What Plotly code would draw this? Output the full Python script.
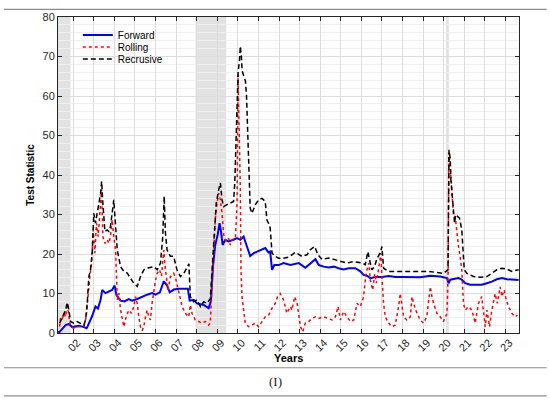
import plotly.graph_objects as go

# ---- data (decimal years) ----
fwd_x = [2001.26, 2001.34, 2001.63, 2001.79, 2001.95, 2002.28, 2002.52, 2002.65, 2002.71, 2002.92,
         2003.08, 2003.20, 2003.33, 2003.41, 2003.57, 2003.73, 2003.89, 2004.01, 2004.10, 2004.30,
         2004.49, 2004.70, 2004.86, 2005.11, 2005.35, 2005.59, 2005.83, 2006.00, 2006.21, 2006.40,
         2006.56, 2006.69, 2006.89, 2007.13, 2007.37, 2007.57, 2007.66, 2007.85, 2008.01, 2008.34,
         2008.58, 2008.69, 2008.79, 2008.90, 2009.02, 2009.11, 2009.18, 2009.26, 2009.39, 2009.55,
         2009.79, 2009.96, 2010.12, 2010.28, 2010.44, 2010.60, 2010.77, 2010.93, 2011.17, 2011.33,
         2011.49, 2011.57, 2011.66, 2011.77, 2011.98, 2012.22, 2012.55, 2012.96, 2013.28, 2013.52,
         2013.77, 2013.93, 2014.17, 2014.41, 2014.66, 2014.90, 2015.14, 2015.38, 2015.71, 2015.95,
         2016.11, 2016.27, 2016.44, 2016.68, 2017.00, 2017.33, 2017.65, 2017.97, 2018.38, 2018.86,
         2019.35, 2019.83, 2020.16, 2020.24, 2020.32, 2020.48, 2020.72, 2020.88, 2021.05, 2021.29,
         2021.61, 2021.85, 2022.10, 2022.34, 2022.58, 2022.83, 2023.07, 2023.55, 2023.64]
fwd_y = [0.2, 0.3, 2.0, 2.3, 1.5, 1.8, 1.5, 1.2, 1.8, 4.3,
         6.7, 6.2, 8.4, 10.9, 10.1, 10.5, 10.9, 12.0, 9.6, 8.2,
         8.0, 8.6, 8.2, 8.6, 9.2, 9.7, 10.1, 9.7, 10.3, 13.1,
         12.0, 10.3, 11.0, 11.2, 11.2, 11.2, 8.2, 8.4, 7.5, 7.1,
         6.3, 8.0, 16.8, 22.3, 24.9, 27.8, 25.7, 22.3, 23.6, 23.2,
         23.6, 24.0, 23.6, 24.4, 21.9, 19.5, 20.2, 20.6, 21.0, 21.5,
         20.4, 20.6, 16.0, 17.2, 17.2, 17.7, 17.2, 17.7, 16.5, 17.7,
         18.7, 17.2, 16.8, 16.6, 16.8, 16.4, 16.1, 16.4, 16.4, 15.6,
         14.7, 14.5, 13.9, 14.2, 14.2, 14.4, 14.2, 14.2, 14.1, 14.1,
         14.5, 14.3, 13.9, 12.6, 13.5, 13.6, 13.9, 13.5, 12.6, 12.2,
         12.2, 12.2, 12.6, 13.0, 13.6, 13.9, 13.6, 13.4, 13.4]

roll_x = [2001.34, 2001.39, 2001.47, 2001.55, 2001.63, 2001.71, 2001.79, 2001.87, 2002.03, 2002.19,
          2002.36, 2002.52, 2002.63, 2002.71, 2002.79, 2002.89, 2002.97, 2003.05, 2003.13, 2003.21,
          2003.29, 2003.38, 2003.44, 2003.54, 2003.65, 2003.73, 2003.81, 2003.89, 2003.97, 2004.06,
          2004.14, 2004.22, 2004.30, 2004.38, 2004.46, 2004.57, 2004.70, 2004.83, 2004.94, 2005.03,
          2005.11, 2005.19, 2005.27, 2005.35, 2005.43, 2005.51, 2005.59, 2005.67, 2005.75, 2005.83,
          2005.92, 2006.00, 2006.08, 2006.19, 2006.29, 2006.40, 2006.48, 2006.61, 2006.72, 2006.88,
          2006.96, 2007.12, 2007.29, 2007.45, 2007.61, 2007.69, 2007.77, 2007.93, 2008.10, 2008.26,
          2008.42, 2008.58, 2008.66, 2008.74, 2008.82, 2008.90, 2008.99, 2009.07, 2009.15, 2009.23,
          2009.31, 2009.39, 2009.47, 2009.55, 2009.63, 2009.71, 2009.88, 2009.96, 2010.01, 2010.04,
          2010.09, 2010.12, 2010.15, 2010.20, 2010.28, 2010.36, 2010.52, 2010.68, 2010.85, 2011.01,
          2011.17, 2011.33, 2011.49, 2011.66, 2011.82, 2011.93, 2012.06, 2012.22, 2012.38, 2012.55,
          2012.63, 2012.76, 2012.88, 2012.96, 2013.04, 2013.15, 2013.28, 2013.44, 2013.60, 2013.77,
          2013.93, 2014.17, 2014.41, 2014.58, 2014.74, 2014.87, 2014.98, 2015.14, 2015.30, 2015.47,
          2015.63, 2015.79, 2015.95, 2016.11, 2016.19, 2016.27, 2016.36, 2016.44, 2016.55, 2016.65,
          2016.73, 2016.84, 2016.95, 2017.00, 2017.08, 2017.16, 2017.33, 2017.49, 2017.65, 2017.81,
          2017.89, 2018.05, 2018.21, 2018.38, 2018.46, 2018.54, 2018.70, 2018.86, 2019.02, 2019.18,
          2019.35, 2019.43, 2019.51, 2019.67, 2019.83, 2019.99, 2020.16, 2020.22, 2020.25, 2020.32,
          2020.40, 2020.48, 2020.56, 2020.64, 2020.72, 2020.80, 2020.88, 2020.96, 2021.05, 2021.21,
          2021.37, 2021.53, 2021.69, 2021.85, 2021.94, 2022.02, 2022.10, 2022.23, 2022.34, 2022.50,
          2022.61, 2022.74, 2022.83, 2022.94, 2023.04, 2023.15, 2023.31, 2023.47, 2023.59]
roll_y = [1.6, 4.1, 3.7, 5.0, 4.1, 7.5, 4.1, 1.6, 1.2, 1.6,
          1.6, 1.8, 4.1, 9.2, 13.5, 17.7, 26.1, 20.2, 27.8, 24.4,
          29.5, 36.3, 24.4, 22.7, 23.6, 22.7, 24.4, 28.7, 24.4, 21.0,
          8.4, 10.1, 5.8, 3.3, 1.6, 4.1, 5.8, 5.0, 6.7, 9.2,
          7.5, 4.1, 1.6, 0.6, 1.6, 4.1, 5.8, 4.1, 3.3, 7.5,
          10.9, 13.4, 15.1, 16.0, 14.4, 21.0, 16.0, 10.9, 14.2, 15.1,
          14.2, 10.9, 6.7, 5.0, 4.1, 7.1, 5.0, 3.3, 2.9, 2.5,
          2.9, 2.0, 2.5, 10.1, 20.2, 28.7, 32.9, 35.4, 33.7, 30.3,
          24.9, 23.6, 23.2, 24.0, 22.3, 23.6, 24.0, 32.9, 65.4, 56.5,
          51.5, 36.3, 16.0, 9.2, 5.8, 2.5, 1.6, 2.0, 2.5, 1.6,
          2.9, 4.1, 4.5, 6.3, 7.5, 9.2, 10.0, 8.4, 5.0, 6.7,
          5.8, 9.2, 7.5, 4.1, 1.6, 0.3, 2.5, 2.9, 3.7, 4.1,
          3.7, 4.1, 3.7, 3.3, 4.1, 6.7, 3.3, 5.4, 4.1, 2.9,
          3.3, 7.5, 6.7, 9.2, 13.4, 16.0, 17.7, 13.4, 10.9, 15.0,
          12.6, 16.8, 20.2, 14.2, 7.5, 4.1, 2.5, 1.6, 2.0, 6.7,
          10.0, 4.1, 3.3, 4.1, 9.2, 7.5, 5.0, 3.3, 2.5, 4.1,
          11.7, 9.2, 7.5, 5.0, 4.1, 2.9, 5.0, 16.0, 45.6, 42.2,
          34.6, 29.5, 29.5, 25.3, 21.9, 19.4, 16.0, 7.5, 5.8, 6.7,
          5.8, 2.5, 7.5, 9.2, 5.8, 1.6, 5.8, 1.6, 5.8, 10.0,
          7.5, 11.7, 9.2, 10.9, 8.4, 6.7, 5.0, 4.1, 4.5]

rec_x = [2001.34, 2001.47, 2001.63, 2001.71, 2001.79, 2001.87, 2002.03, 2002.19, 2002.36, 2002.52,
         2002.60, 2002.68, 2002.76, 2002.84, 2002.92, 2003.00, 2003.08, 2003.17, 2003.25, 2003.33,
         2003.38, 2003.44, 2003.54, 2003.65, 2003.73, 2003.81, 2003.89, 2003.97, 2004.06, 2004.14,
         2004.30, 2004.46, 2004.62, 2004.78, 2004.94, 2005.11, 2005.27, 2005.43, 2005.67, 2005.92,
         2006.08, 2006.24, 2006.35, 2006.42, 2006.48, 2006.56, 2006.72, 2006.88, 2007.04, 2007.21,
         2007.37, 2007.56, 2007.62, 2007.69, 2007.85, 2008.01, 2008.18, 2008.34, 2008.50, 2008.66,
         2008.74, 2008.82, 2008.95, 2009.07, 2009.15, 2009.23, 2009.31, 2009.47, 2009.63, 2009.79,
         2009.85, 2009.91, 2009.96, 2010.01, 2010.08, 2010.12, 2010.17, 2010.21, 2010.29, 2010.37,
         2010.42, 2010.45, 2010.50, 2010.53, 2010.56, 2010.60, 2010.68, 2010.85, 2011.01, 2011.17,
         2011.33, 2011.41, 2011.49, 2011.57, 2011.66, 2011.82, 2011.98, 2012.22, 2012.46, 2012.79,
         2013.11, 2013.36, 2013.52, 2013.73, 2013.89, 2014.09, 2014.41, 2014.73, 2014.98, 2015.30,
         2015.62, 2016.03, 2016.19, 2016.32, 2016.38, 2016.51, 2016.64, 2016.76, 2016.92, 2017.00,
         2017.08, 2017.32, 2018.29, 2019.26, 2019.99, 2020.15, 2020.21, 2020.26, 2020.32, 2020.35,
         2020.43, 2020.48, 2020.53, 2020.58, 2020.77, 2020.88, 2020.93, 2021.00, 2021.13, 2021.45,
         2021.77, 2022.10, 2022.34, 2022.58, 2022.83, 2023.07, 2023.31, 2023.55, 2023.64]
rec_y = [2.5, 4.1, 5.8, 7.7, 5.8, 2.9, 2.5, 2.9, 2.5, 2.0,
         3.3, 7.5, 14.3, 16.0, 20.2, 30.3, 27.8, 31.2, 32.9, 35.4,
         38.4, 32.9, 25.7, 26.1, 25.7, 27.0, 31.2, 33.7, 27.0, 21.0,
         16.8, 15.6, 15.2, 13.9, 12.6, 11.8, 14.3, 16.0, 16.5, 16.8,
         16.0, 17.7, 24.4, 34.6, 25.3, 21.0, 19.4, 19.4, 16.0, 14.3,
         15.1, 16.8, 17.5, 9.2, 7.9, 8.4, 6.7, 7.9, 7.5, 8.7,
         16.0, 22.7, 32.9, 36.3, 38.0, 33.7, 32.0, 32.5, 32.9, 33.3,
         38.0, 47.3, 55.7, 65.9, 69.2, 72.6, 70.0, 66.3, 65.0, 63.7,
         60.0, 54.4, 49.0, 43.0, 36.3, 31.6, 30.3, 32.5, 33.7, 34.1,
         33.3, 28.6, 27.8, 26.6, 20.2, 19.4, 18.9, 18.9, 19.2, 20.4,
         19.4, 19.8, 21.1, 21.9, 19.8, 18.6, 19.0, 18.5, 18.1, 17.7,
         18.1, 17.7, 17.3, 20.6, 18.9, 16.0, 16.8, 18.9, 20.3, 21.9,
         16.4, 15.6, 15.6, 15.6, 15.1, 15.6, 16.0, 46.4, 43.9, 38.8,
         33.7, 31.2, 27.8, 29.9, 29.1, 26.1, 22.7, 16.0, 15.1, 14.3,
         14.1, 14.3, 15.1, 16.0, 16.4, 16.2, 15.6, 16.0, 16.0]

recessions = [(2001.26, 2001.87), (2007.94, 2009.43), (2020.11, 2020.25)]
years = list(range(2002, 2024))
year_labels = [f"{y % 100:02d}" for y in years]

FONT = "Liberation Sans, Arial, sans-serif"
AX = "#262626"

fig = go.Figure()
fig.add_trace(go.Scatter(x=fwd_x, y=fwd_y, name="Forward", mode="lines", legend="legend",
                         line=dict(color="#0000ff", width=2)))
fig.add_trace(go.Scatter(x=roll_x, y=roll_y, name="Rolling", mode="lines", legend="legend2",
                         line=dict(color="#ff0000", width=1.5, dash="dot")))
fig.add_trace(go.Scatter(x=rec_x, y=rec_y, name="Recrusive", mode="lines", legend="legend3",
                         line=dict(color="#000000", width=1.5, dash="5px,3px")))

for a, b in recessions:
    fig.add_shape(type="rect", xref="x", yref="y", x0=a, x1=b, y0=0, y1=80,
                  fillcolor="#e2e2e2", line_width=0, layer="below")

# rules of the surrounding table
for yy in [1.024, -0.110, -0.199]:
    fig.add_shape(type="line", xref="paper", yref="paper", x0=-0.117, x1=1.06,
                  y0=yy, y1=yy, line=dict(color="#8c8c8c", width=1.2))

fig.add_annotation(text="(I)", xref="paper", yref="paper", x=0.471, y=-0.155,
                   yanchor="middle", xanchor="center", showarrow=False,
                   font=dict(family="Liberation Serif, Times New Roman, serif", size=13, color="#222"))
fig.add_annotation(text="<b>Years</b>", xref="paper", yref="paper", x=0.5, y=-0.079,
                   yanchor="middle", xanchor="center", showarrow=False,
                   font=dict(size=11, color="#000"))

leg = dict(x=0.043, xanchor="left", yanchor="middle", bgcolor="rgba(255,255,255,0)",
           font=dict(size=10, color="#000"))
fig.update_layout(
    width=550, height=403,
    margin=dict(l=58, r=31, t=17, b=70),
    paper_bgcolor="white", plot_bgcolor="white",
    font=dict(family=FONT, size=11, color=AX),
    showlegend=True,
    legend=dict(leg, y=0.943),
    legend2=dict(leg, y=0.905),
    legend3=dict(leg, y=0.867),
)
fig.update_xaxes(range=[2001.26, 2023.66], tickvals=years, ticktext=year_labels,
                 tickangle=-45, ticklabelshift=4, ticklabelstandoff=-2,
                 showgrid=True, gridcolor="#dddddd", gridwidth=1,
                 showline=True, linecolor=AX, linewidth=1, mirror="ticks",
                 ticks="inside", ticklen=4, tickcolor=AX, zeroline=False,
                 tickfont=dict(size=11, color=AX))
fig.update_yaxes(range=[0, 80], dtick=10, showgrid=True, gridcolor="#dddddd", gridwidth=1,
                 minor=dict(dtick=2, showgrid=True, gridcolor="#f0f0f0"),
                 showline=True, linecolor=AX, linewidth=1, mirror="ticks",
                 ticks="inside", ticklen=4, tickcolor=AX, zeroline=False,
                 tickfont=dict(size=11, color=AX),
                 title=dict(text="<b>Test Statistic</b>", font=dict(size=10, color="#000"), standoff=6))

# page body has a default 8px margin; drop it so the figure sits at the window corner
fig.write_html("out.html", config={"displayModeBar": False},
               post_script="document.body.style.margin='0';")
